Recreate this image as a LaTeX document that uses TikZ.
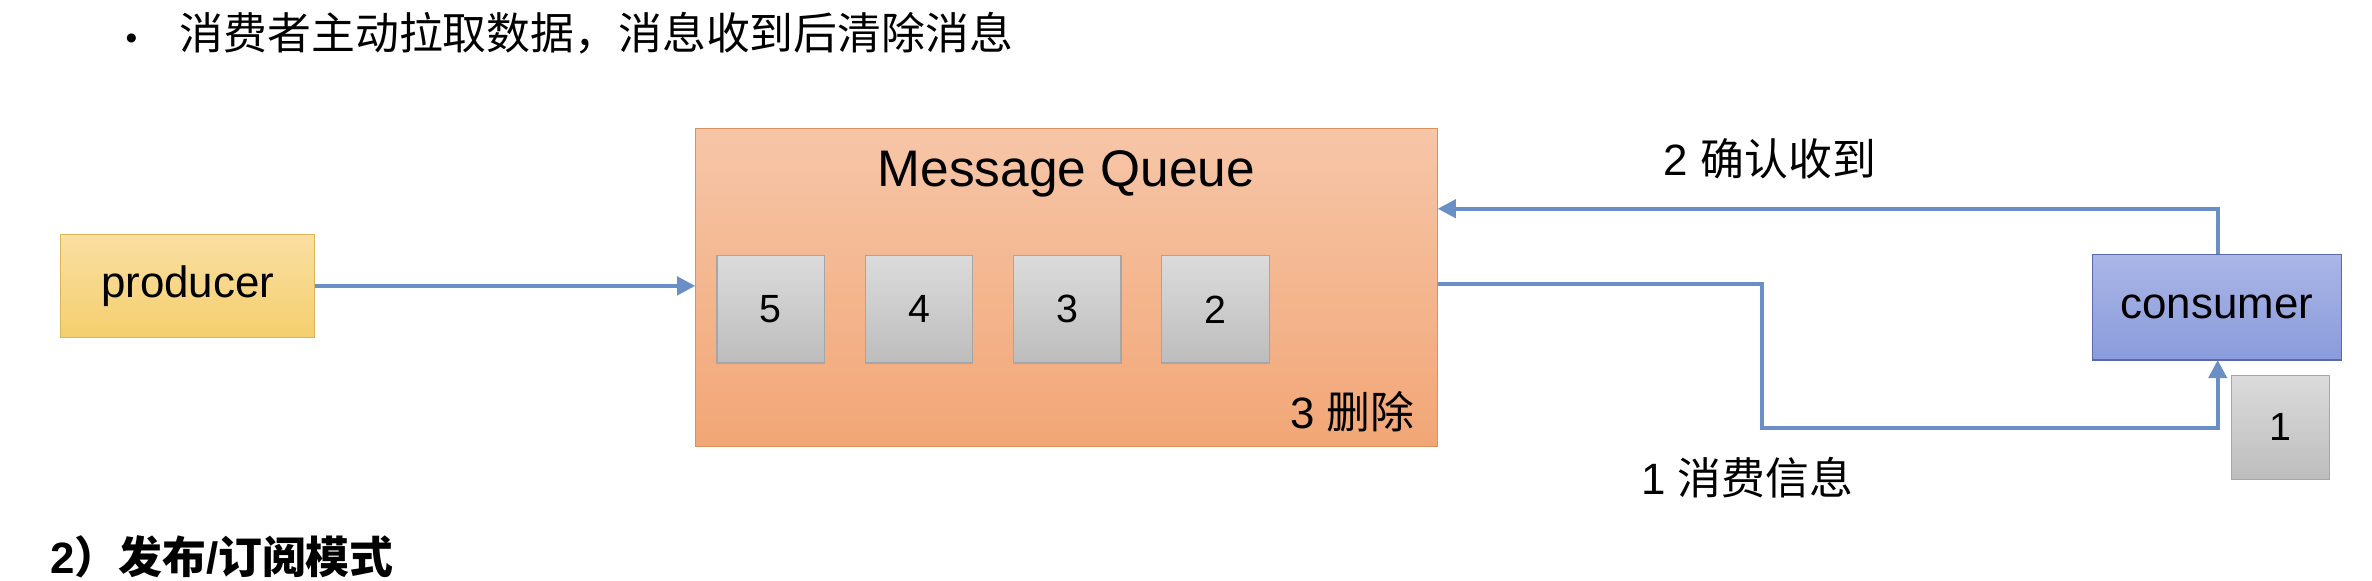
\documentclass[tikz,border=0pt]{standalone}
\usepackage{fontspec}
\setmainfont{Liberation Sans}
\newfontfamily\cjk{Noto Sans CJK SC}
\usetikzlibrary{arrows.meta,positioning}
\definecolor{arrowblue}{HTML}{6A8FC7}
\definecolor{mqtop}{HTML}{F6C6A8}
\definecolor{mqbot}{HTML}{F2A676}
\definecolor{mqline}{HTML}{D9905F}
\definecolor{prtop}{HTML}{F9DFA2}
\definecolor{prbot}{HTML}{F5CF6E}
\definecolor{prline}{HTML}{D8B656}
\definecolor{cotop}{HTML}{AAB6E6}
\definecolor{cobot}{HTML}{8A9BDC}
\definecolor{coline}{HTML}{5A69A8}
\tikzset{
  box/.style={draw, minimum width=#1, inner sep=0pt},
  cell/.style={draw=black!35, top color=black!14, bottom color=black!26,
    minimum width=35.5pt, minimum height=35.5pt, font=\fontsize{13}{15}\selectfont},
  flow/.style={arrowblue, line width=1.3pt, -{Triangle[length=6pt,width=6pt]}},
  lbl/.style={font=\fontsize{14.5}{17}\selectfont},
}
\begin{document}
\begin{tikzpicture}[x=0.5pt, y=-0.5pt]
\useasboundingbox (0,0) rectangle (1568,384);
\node[anchor=west, lbl] (head) at (76,22) {{\fontsize{11}{13}\selectfont\textbullet}\hspace{14pt}{\cjk 消费者主动拉取数据，消息收到后清除消息}};
\node[anchor=west, lbl, font=\fontsize{14.5}{17}\selectfont\bfseries] (next) at (26,368) {2{\cjk\bfseries ）发布}/{\cjk\bfseries 订阅模式}};

\node[box=84pt, minimum height=34pt, draw=prline, top color=prtop, bottom color=prbot, lbl] (producer) at (124,189) {producer};
\node[box=245pt, minimum height=105pt, draw=mqline, top color=mqtop, bottom color=mqbot] (mq) at (705,190) {};
\node[font=\fontsize{17}{20}\selectfont] (title) at (705,115) {Message Queue};
\node[cell] (c5) at (509.5,204.5) {5};
\node[cell] (c4) at (607.5,204.5) {4};
\node[cell] (c3) at (705.5,204.5) {3};
\node[cell] (c2) at (803.5,204.5) {2};
\node[anchor=east, lbl] (del) at (942,272) {3 {\cjk 删除}};

\node[box=82.5pt, minimum height=35pt, draw=coline, top color=cotop, bottom color=cobot, lbl] (consumer) at (1465.5,203) {consumer};
\node[cell, minimum width=32.5pt, minimum height=34.5pt] (c1) at (1507.5,282.5) {1};

\coordinate (ackin) at (mq.east |- 0,138);
\coordinate (outq) at (mq.east |- 0,188);
\coordinate (cbot) at (1466,238);
\coordinate (ctop) at (1466,168);

\draw[flow] (producer) -- (mq.west |- producer);
\draw[flow] (ctop) |- (ackin);
\draw[flow] (outq) -| (1165,283) -| (cbot);
\node[lbl] (ack) at (1170,105) {2 {\cjk 确认收到}};
\node[lbl] (pull) at (1155,316) {1 {\cjk 消费信息}};
\end{tikzpicture}
\end{document}
